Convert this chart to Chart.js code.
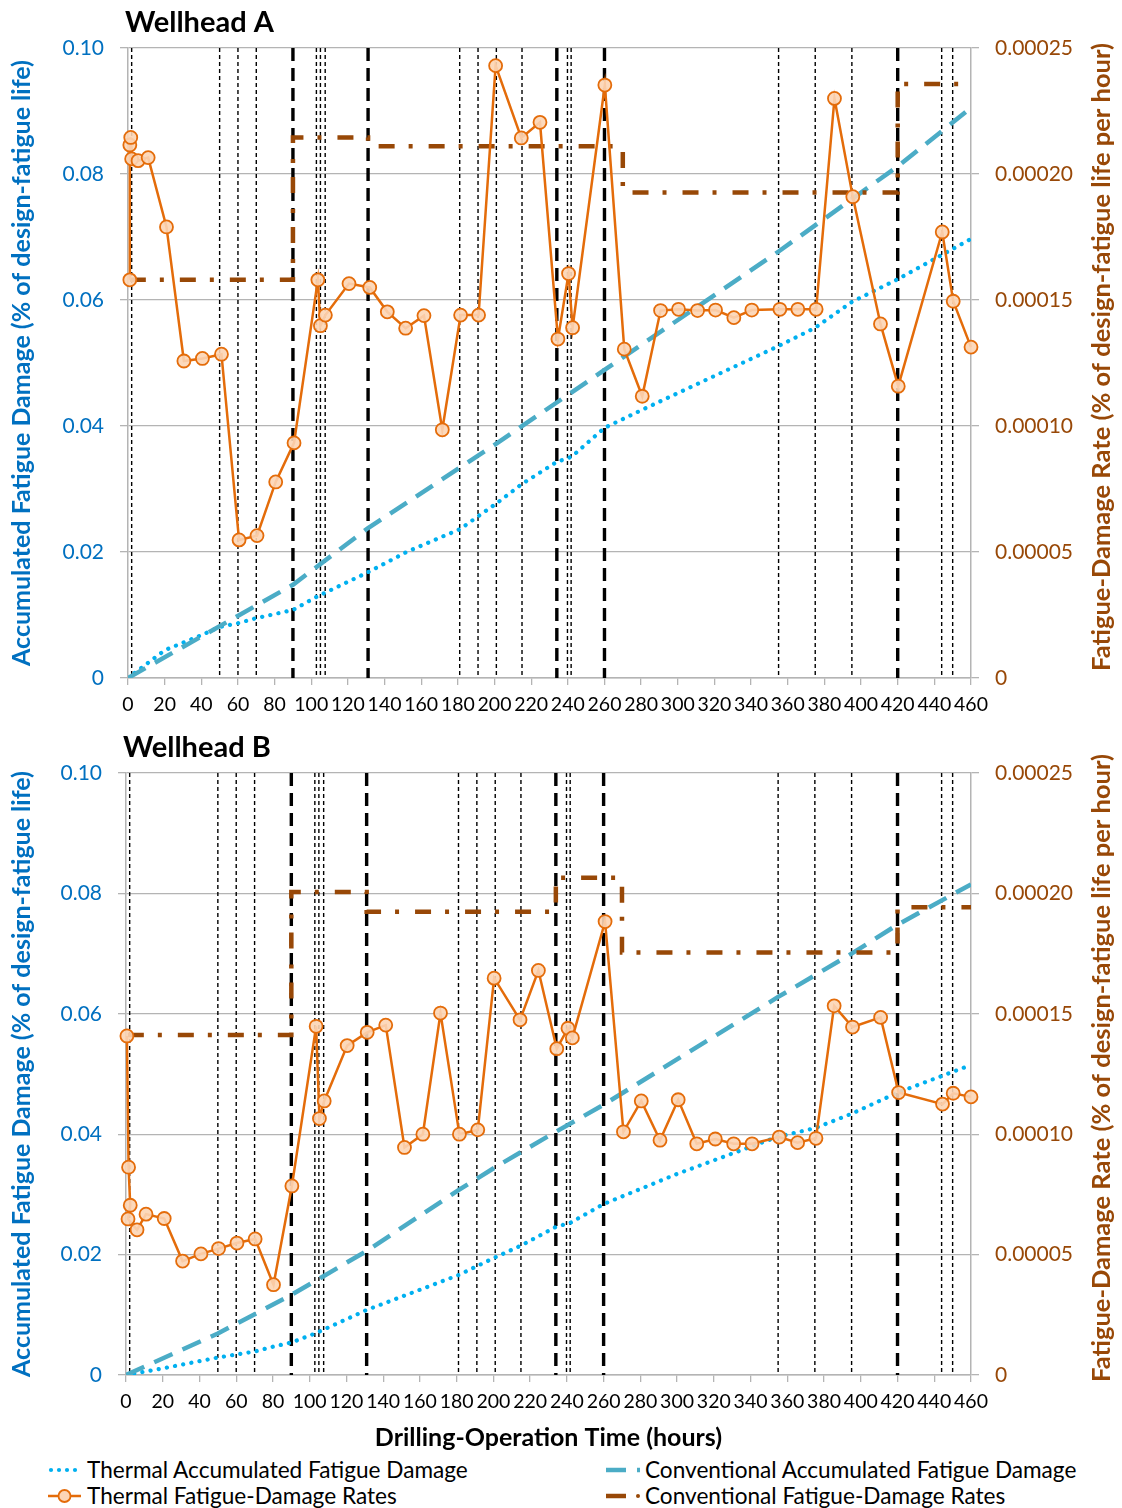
<!DOCTYPE html>
<html>
<head>
<meta charset="utf-8">
<script src="https://cdn.jsdelivr.net/npm/chart.js@4.4.1/dist/chart.umd.min.js"></script>
<style>
  html, body { margin: 0; padding: 0; background: #fff; }
  body { width: 1122px; height: 1508px; position: relative; overflow: hidden; font-family: Lato, "Open Sans", sans-serif; }
  canvas { position: absolute; left: 0; }
  #chartA { top: 0; }
  #chartB { top: 725px; }
  .leg { position: absolute; height: 26px; font-size: 22.6px; line-height: 26px; color: #000; white-space: nowrap; }
  .leg svg { position: absolute; left: 0; top: 3px; }
  .leg span { position: absolute; left: 39px; top: 0; }
</style>
</head>
<body>
<canvas id="chartA" width="1122" height="720"></canvas>
<canvas id="chartB" width="1122" height="728"></canvas>

<div class="leg" style="left:48px; top:1457px;">
  <svg width="36" height="20"><g fill="#00B0F0"><circle cx="3" cy="10" r="2.1"/><circle cx="11" cy="10" r="2.1"/><circle cx="19" cy="10" r="2.1"/><circle cx="27" cy="10" r="2.1"/></g></svg>
  <span>Thermal Accumulated Fatigue Damage</span>
</div>
<div class="leg" style="left:48px; top:1483px;">
  <svg width="36" height="20"><line x1="0" y1="10" x2="33" y2="10" stroke="#E46C0A" stroke-width="2.5"/><circle cx="16.5" cy="10" r="6" fill="#FCD5B5" stroke="#E46C0A" stroke-width="1.8"/></svg>
  <span>Thermal Fatigue-Damage Rates</span>
</div>
<div class="leg" style="left:606px; top:1457px;">
  <svg width="36" height="20"><line x1="0" y1="10" x2="20" y2="10" stroke="#4BACC6" stroke-width="4.5"/><line x1="31" y1="10" x2="34" y2="10" stroke="#4BACC6" stroke-width="4.5"/></svg>
  <span>Conventional Accumulated Fatigue Damage</span>
</div>
<div class="leg" style="left:606px; top:1483px;">
  <svg width="36" height="20"><line x1="0" y1="10" x2="20" y2="10" stroke="#984807" stroke-width="4.5"/><circle cx="32" cy="10" r="2" fill="#984807"/></svg>
  <span>Conventional Fatigue-Damage Rates</span>
</div>

<script>
// ---- Operation events (hours) marked by vertical lines ----
const minorEventHours = [2, 50, 60, 70, 102.8, 105, 107.6, 181, 191, 201, 215, 239.8, 241.8, 355, 375, 395, 444, 450];
const majorEventHours = [90, 131, 234, 260, 420];

// ---- Wellhead A ----
const a_thermalRateHours = [1, 1, 1.5, 2, 5.5, 11, 21, 30.5, 40.6, 51, 60.6, 70.4, 80.6, 90.6, 103.6, 105, 107.7,
  120.6, 131.9, 141.5, 151.5, 161.5, 171.5, 181.5, 191.3, 200.6, 214.6, 224.8, 234.6, 240.4, 242.6, 260.2,
  270.8, 280.6, 290.6, 300.4, 310.8, 320.6, 330.6, 340.4, 355.7, 365.5, 375.5, 385.5, 395.5, 410.6, 420.3,
  444.3, 450.3, 460];
const a_thermalRate = [0.000158, 0.0002115, 0.0002145, 0.000206, 0.0002053, 0.0002065, 0.000179, 0.0001258,
  0.0001268, 0.0001285, 0.0000548, 0.0000565, 0.0000778, 0.0000933, 0.000158, 0.0001398, 0.000144,
  0.0001565, 0.000155, 0.0001453, 0.0001388, 0.0001438, 0.0000985, 0.000144, 0.000144, 0.000243,
  0.0002143, 0.0002205, 0.0001345, 0.0001605, 0.000139, 0.0002353, 0.0001305, 0.0001118, 0.0001458,
  0.0001463, 0.0001458, 0.000146, 0.000143, 0.000146, 0.0001463, 0.0001463, 0.0001463, 0.00023,
  0.000191, 0.0001405, 0.0001158, 0.000177, 0.0001495, 0.0001313];

const a_convRateHours = [1, 90, 131, 270, 420, 460];
const a_convRate = [0.000158, 0.0002145, 0.000211, 0.0001927, 0.0002357, 0.0002357];

const a_convAccHours = [0, 90, 131, 200, 260, 355, 420, 460];
const a_convAcc = [0, 0.0148, 0.0238, 0.037, 0.0489, 0.0677, 0.0812, 0.0905];

const a_thermalAccHours = [0, 20, 40, 50, 60, 70, 90, 103, 131, 152, 172, 181, 201, 215, 234, 242, 260, 280,
  355, 375, 395, 420, 460];
const a_thermalAcc = [0, 0.0044, 0.0068, 0.0081, 0.0087, 0.0095, 0.0108, 0.0129, 0.0168, 0.02, 0.0225,
  0.0236, 0.0277, 0.0308, 0.0343, 0.0351, 0.0397, 0.0425, 0.0527, 0.0556, 0.0597, 0.0633, 0.0697];

// ---- Wellhead B ----
const b_thermalRateHours = [0.5, 1.4, 2.3, 1.1, 6, 10.9, 20.8, 30.8, 40.8, 50.4, 60.4, 70.3, 80.3, 90.3, 103.5,
  105.3, 107.9, 120.4, 131.3, 141.4, 151.6, 161.6, 171.2, 181.5, 191.5, 200.4, 214.5, 224.5, 234.5, 240.6,
  243, 260.8, 270.8, 280.5, 290.7, 300.6, 310.7, 320.8, 330.8, 340.8, 355.6, 365.6, 375.6, 385.5, 395.5,
  410.8, 420.6, 444.5, 450.3, 460];
const b_thermalRate = [0.0001408, 0.0000863, 0.0000705, 0.0000648, 0.0000603, 0.0000668, 0.000065,
  0.0000473, 0.0000503, 0.0000525, 0.0000548, 0.0000565, 0.0000375, 0.0000785, 0.0001448, 0.0001065,
  0.0001138, 0.0001368, 0.0001423, 0.0001453, 0.0000945, 0.0001, 0.0001503, 0.0001, 0.0001018, 0.0001648,
  0.0001475, 0.000168, 0.0001355, 0.000144, 0.00014, 0.0001883, 0.000101, 0.0001138, 0.0000975, 0.0001143,
  0.000096, 0.000098, 0.000096, 0.000096, 0.0000988, 0.0000965, 0.0000983, 0.0001533, 0.0001445,
  0.0001485, 0.0001173, 0.0001125, 0.000117, 0.0001155];

const b_convRateHours = [1, 90, 131, 234, 270, 420, 460];
const b_convRate = [0.0001412, 0.0002006, 0.0001924, 0.0002065, 0.0001755, 0.0001942, 0.0001942];

const b_convAccHours = [0, 50, 90, 131, 181, 202, 234, 260, 355, 395, 420, 460];
const b_convAcc = [0, 0.0069, 0.0133, 0.0206, 0.0307, 0.0347, 0.0404, 0.0449, 0.0628, 0.07, 0.0748, 0.0815];

const b_thermalAccHours = [0, 20, 50, 70, 80, 90, 103, 131, 150, 181, 200, 215, 234, 242, 260, 300, 355, 375,
  395, 420, 460];
const b_thermalAcc = [0, 0.0011, 0.0029, 0.0039, 0.0047, 0.0054, 0.0069, 0.0108, 0.013, 0.0166, 0.0194,
  0.0215, 0.0246, 0.0253, 0.0284, 0.0334, 0.0396, 0.041, 0.0434, 0.0469, 0.0515];

// ---- Axis ticks ----
const hourTicks = { min: 0, max: 460, step: 20 };
const damageTicks = { min: 0, max: 0.10, step: 0.02 };
const rateTicks = { min: 0, max: 0.00025, step: 0.00005 };

// ---- Styling ----
const FONT = 'Lato';
const BLUE = '#0070C0';
const BROWN = '#984807';
const GRID = '#b4b4b4';
Chart.defaults.font.family = FONT;

const zip = (xs, ys) => xs.map((x, i) => ({ x, y: ys[i] }));

// vertical event lines drawn behind the series
const eventLines = {
  id: 'eventLines',
  beforeDatasetsDraw(chart, args, opts) {
    const { ctx, chartArea, scales } = chart;
    const xs = scales.x, ys = scales.yL;
    const top = ys.getPixelForValue(ys.max), bottom = ys.getPixelForValue(ys.min);
    ctx.save();
    ctx.beginPath();
    ctx.rect(chartArea.left, chartArea.top, chartArea.width, chartArea.height);
    ctx.clip();
    ctx.strokeStyle = '#000';
    const draw = (hours, width, dash) => {
      ctx.lineWidth = width;
      ctx.setLineDash(dash);
      hours.forEach(h => {
        const px = xs.getPixelForValue(h);
        ctx.beginPath();
        ctx.moveTo(px, top);
        ctx.lineTo(px, bottom);
        ctx.stroke();
      });
    };
    draw(opts.minor, 1.4, [4, 3]);
    draw(opts.major, 3.4, [13, 7]);
    ctx.restore();
  }
};

// panel heading and right-hand axis title
const panelText = {
  id: 'panelText',
  afterDraw(chart, args, opts) {
    const { ctx, chartArea } = chart;
    ctx.save();
    ctx.fillStyle = '#000';
    ctx.font = `bold 29px ${FONT}`;
    ctx.textAlign = 'left';
    ctx.textBaseline = 'alphabetic';
    ctx.fillText(opts.heading, chartArea.left - 3, chartArea.top - 16);

    ctx.translate(chart.width - 20, (chartArea.top + chartArea.bottom) / 2 - 6);
    ctx.rotate(-Math.PI / 2);
    ctx.fillStyle = BROWN;
    ctx.font = `bold 25.5px ${FONT}`;
    ctx.textAlign = 'center';
    ctx.textBaseline = 'middle';
    ctx.fillText(opts.rightTitle, 0, 0);
    ctx.restore();
  }
};

function buildChart(canvasId, heading, d, leftWidth, showXTitle) {
  const datasets = [
    {
      label: 'Thermal Fatigue-Damage Rates',
      data: zip(d.thermalRateHours, d.thermalRate),
      yAxisID: 'yR', showLine: true, order: 0,
      borderColor: '#E46C0A', borderWidth: 2.5,
      pointRadius: 6.5, pointBorderWidth: 1.8,
      pointBackgroundColor: 'rgba(252, 213, 181, 0.9)', pointBorderColor: '#E46C0A',
      clip: 12
    },
    {
      label: 'Conventional Fatigue-Damage Rates',
      data: zip(d.convRateHours, d.convRate),
      yAxisID: 'yR', showLine: true, order: 1, stepped: 'before',
      borderColor: BROWN, borderWidth: 4.5, borderDash: [16, 14, 4, 16],
      pointRadius: 0
    },
    {
      label: 'Conventional Accumulated Fatigue Damage',
      data: zip(d.convAccHours, d.convAcc),
      yAxisID: 'yL', showLine: true, order: 2,
      borderColor: '#4BACC6', borderWidth: 4.5, borderDash: [20, 11],
      pointRadius: 0
    },
    {
      label: 'Thermal Accumulated Fatigue Damage',
      data: zip(d.thermalAccHours, d.thermalAcc),
      yAxisID: 'yL', showLine: true, order: 3,
      borderColor: '#00B0F0', borderWidth: 4.2, borderDash: [0.1, 8.2], borderCapStyle: 'round',
      pointRadius: 0
    }
  ];

  return new Chart(document.getElementById(canvasId), {
    type: 'scatter',
    data: { datasets },
    options: {
      responsive: false,
      animation: false,
      events: [],
      layout: { padding: { top: 48, left: 0, right: 0, bottom: 0 } },
      plugins: {
        legend: { display: false },
        tooltip: { enabled: false },
        eventLines: { minor: minorEventHours, major: majorEventHours },
        panelText: { heading, rightTitle: 'Fatigue-Damage Rate (% of design-fatigue life per hour)' }
      },
      scales: {
        x: {
          type: 'linear', position: 'bottom',
          min: hourTicks.min, max: hourTicks.max,
          afterFit: s => { s.height = showXTitle ? 78 : 42; },
          ticks: { stepSize: hourTicks.step, autoSkip: false, maxRotation: 0, minRotation: 0,
                   color: '#000', font: { size: 19.5 }, padding: 8 },
          grid: { drawOnChartArea: false, drawTicks: true, tickLength: 7, color: GRID, lineWidth: 1.3 },
          border: { display: true, color: GRID, width: 1.5 },
          title: { display: showXTitle, text: 'Drilling-Operation Time (hours)', color: '#000',
                   font: { size: 25, weight: 'bold' }, padding: { top: 0, bottom: 0 } }
        },
        yL: {
          type: 'linear', position: 'left',
          min: damageTicks.min, max: damageTicks.max,
          afterFit: s => { s.width = leftWidth; },
          ticks: { stepSize: damageTicks.step, color: BLUE, font: { size: 21 }, padding: 16,
                   callback: v => (Math.abs(v) < 1e-12 ? '0' : v.toFixed(2)) },
          grid: { drawTicks: true, tickLength: 8, color: GRID, lineWidth: 1.3 },
          border: { display: true, color: GRID, width: 1.5 },
          title: { display: true, text: 'Accumulated Fatigue Damage (% of design-fatigue life)', color: BLUE,
                   font: { size: 25, weight: 'bold' }, padding: { top: 7, bottom: 0 } }
        },
        yR: {
          type: 'linear', position: 'right',
          min: rateTicks.min, max: rateTicks.max,
          afterFit: s => { s.width = 151; },
          ticks: { stepSize: rateTicks.step, color: BROWN, font: { size: 21 }, padding: 16,
                   callback: v => (Math.abs(v) < 1e-12 ? '0' : v.toFixed(5)) },
          grid: { drawOnChartArea: false, drawTicks: true, tickLength: 8, color: GRID, lineWidth: 1.3 },
          border: { display: true, color: GRID, width: 1.5 }
        }
      }
    },
    plugins: [eventLines, panelText]
  });
}

buildChart('chartA', 'Wellhead A', {
  thermalRateHours: a_thermalRateHours, thermalRate: a_thermalRate,
  convRateHours: a_convRateHours, convRate: a_convRate,
  convAccHours: a_convAccHours, convAcc: a_convAcc,
  thermalAccHours: a_thermalAccHours, thermalAcc: a_thermalAcc
}, 128, false);

buildChart('chartB', 'Wellhead B', {
  thermalRateHours: b_thermalRateHours, thermalRate: b_thermalRate,
  convRateHours: b_convRateHours, convRate: b_convRate,
  convAccHours: b_convAccHours, convAcc: b_convAcc,
  thermalAccHours: b_thermalAccHours, thermalAcc: b_thermalAcc
}, 126, true);
</script>
</body>
</html>
